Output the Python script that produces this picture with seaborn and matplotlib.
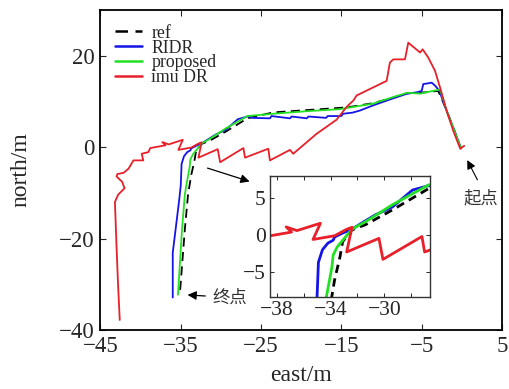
import matplotlib
matplotlib.use("Agg")
import matplotlib.pyplot as plt
import seaborn as sns
import numpy as np
import pandas as pd

# ---------------- data (east / north in metres) ----------------
ref_east = [-0.1, -0.9, -1.9, -2.6, -2.95, -4.5, -6.9, -9.0, -11.1, -14.3, -18.5, -23.5,
            -26.7, -29.4, -31.4, -32.4, -33.1, -33.3, -33.7, -33.9, -34.1, -34.5, -35.1]
ref_north = [-0.3, 3.5, 8.0, 11.0, 12.3, 12.0, 11.75, 10.6, 9.6, 8.7, 8.2, 7.6,
             6.3, 3.4, 1.4, 0.7, -0.9, -3.0, -6.1, -8.3, -10.5, -18.1, -31.8]

prop_east = [-0.1, -0.9, -1.9, -2.7, -3.6, -5.2, -6.8, -9.0, -11.1, -15.2, -19.0, -23.5,
             -26.7, -29.4, -31.4, -32.4, -33.5, -33.8, -33.9, -34.3, -34.5, -34.85, -35.35]
prop_north = [-0.3, 3.5, 8.0, 12.6, 12.3, 11.7, 11.9, 10.7, 9.5, 8.3, 7.9, 7.3,
              6.8, 4.1, 1.8, 0.8, -1.6, -2.7, -4.4, -8.3, -10.5, -18.1, -32.3]

ridr_east = [-0.1, -0.9, -1.9, -2.8, -3.3, -3.75, -4.4, -4.8, -5.0, -5.6, -6.8, -9.0, -11.1,
             -12.7, -13.6, -14.8, -15.0, -16.7, -16.9, -19.1, -19.3, -21.2, -21.4, -23.7,
             -23.9, -26.0, -26.7, -27.9, -29.4, -30.7, -31.7, -32.4, -33.1, -33.7, -33.8,
             -34.2, -34.6, -34.9, -35.0, -35.2, -36.0, -36.0]
ridr_north = [-0.3, 3.5, 8.0, 12.3, 13.4, 14.1, 13.9, 13.8, 12.3, 12.0, 11.7, 10.4, 9.1,
              8.0, 7.55, 7.3, 6.8, 6.8, 6.4, 6.7, 6.3, 6.7, 6.3, 6.8,
              6.3, 6.4, 6.7, 6.1, 3.8, 2.7, 1.6, 0.8, 0.27, -0.27, -0.7,
              -1.1, -2.0, -3.7, -8.3, -11.6, -23.1, -32.9]

imu_east = [0.3, -0.2, -1.07, -1.9, -2.72, -3.34, -4.18, -4.88, -5.2, -6.67, -7.08, -8.54,
            -8.96, -9.36, -11.0, -13.1, -13.5, -14.3, -15.6, -18.1, -21.0, -21.4, -23.9,
            -24.1, -27.0, -27.2, -30.1, -30.4, -32.8, -32.4, -32.8, -33.7, -35.3, -34.75,
            -36.5, -37.3, -36.9, -38.8, -39.05, -39.87, -39.67, -40.9, -41.5, -42.1, -42.9,
            -43.0, -42.3, -42.0, -42.8, -43.2, -43.0, -42.8, -42.6]
imu_north = [0.3, -0.35, 3.6, 8.0, 13.1, 16.7, 19.6, 21.4, 20.7, 22.85, 19.2, 19.2,
             18.5, 14.5, 13.1, 11.3, 10.2, 8.9, 6.0, 2.9, -1.45, -0.6, -2.9,
             -0.35, -2.3, -0.2, -3.3, -0.45, -2.3, 1.05, 0.78, -0.1, -0.6, 1.6,
             0.6, 1.1, 0.4, -0.2, -1.1, -1.45, -2.9, -2.9, -4.7, -5.6, -5.9,
             -6.4, -7.6, -9.0, -10.4, -12.0, -21.8, -30.5, -37.8]

series = [
    ("ref", ref_east, ref_north, "black", "--"),
    ("RIDR", ridr_east, ridr_north, "#1414e6", "-"),
    ("proposed", prop_east, prop_north, "#22e022", "-"),
    ("imu DR", imu_east, imu_north, "#e8202a", "-"),
]

main_xticks = [-45, -35, -25, -15, -5, 5]
main_yticks = [-40, -20, 0, 20]
inset_xticks = [-38, -34, -30]
inset_yticks = [-5, 0, 5]

# ---------------- style ----------------
sns.set_style("ticks")
plt.rcParams["font.family"] = ["Liberation Serif", "DejaVu Serif"]
plt.rcParams["axes.unicode_minus"] = True

fig = plt.figure(figsize=(5.09, 3.89), dpi=100)
ax = fig.add_axes([0.1974, 0.1517, 0.7888, 0.8226])

for name, xe, yn, c, ls in series:
    df = pd.DataFrame({"east": xe, "north": yn})
    sns.lineplot(data=df, x="east", y="north", sort=False, estimator=None,
                 color=c, linestyle=ls, linewidth=1.3, label=name, ax=ax,
                 dashes=False if ls == "-" else True)
ax.lines[0].set_dashes([5, 3])

ax.set_xlim(-45, 5)
ax.set_ylim(-40, 30)
ax.set_xticks(main_xticks)
ax.set_yticks(main_yticks)
ax.tick_params(direction="in", length=4, width=0.8, top=True, right=True,
               labelsize=16.5, pad=4)
for s in ax.spines.values():
    s.set_linewidth(1.3)
    s.set_color("black")
ax.set_xlabel("east/m", fontsize=17, labelpad=6)
ax.set_ylabel("north/m", fontsize=17, labelpad=20)

leg = ax.legend(loc="upper left", bbox_to_anchor=(0.035, 0.954), frameon=False,
                fontsize=12.8, handlelength=1.55, handletextpad=0.52,
                labelspacing=-0.12, borderpad=0, borderaxespad=0)
for h in leg.get_lines():
    h.set_linewidth(1.8)

# annotations
ax.annotate("", xy=(-26.1, -7.7), xytext=(-32.0, -4.4),
            arrowprops=dict(arrowstyle="-|>", color="black", lw=0.9, mutation_scale=13))
ax.annotate("", xy=(0.52, -2.3), xytext=(2.1, -7.7),
            arrowprops=dict(arrowstyle="-|>", color="black", lw=0.8, mutation_scale=13))
ax.text(2.4, -11.3, "起点", fontsize=12.5, color="#333333", ha="center", va="center",
        family=["Noto Sans CJK SC", "DejaVu Sans"])
ax.annotate("", xy=(-34.5, -32.3), xytext=(-31.6, -32.6),
            arrowprops=dict(arrowstyle="-|>", color="black", lw=0.9, mutation_scale=13))
ax.text(-28.9, -32.9, "终点", fontsize=12.5, color="#333333", ha="center", va="center",
        family=["Noto Sans CJK SC", "DejaVu Sans"])

# ---------------- inset ----------------
axin = fig.add_axes([0.5305, 0.2365, 0.3143, 0.311])
for name, xe, yn, c, ls in series:
    df = pd.DataFrame({"east": xe, "north": yn})
    sns.lineplot(data=df, x="east", y="north", sort=False, estimator=None,
                 color=c, linestyle=ls, linewidth=2.0, ax=axin, legend=False,
                 dashes=False if ls == "-" else True)
axin.lines[0].set_dashes([3, 2])
axin.set_xlim(-38.5, -26.6)
axin.set_ylim(-8.4, 8.0)
axin.set_xticks(inset_xticks)
axin.set_yticks(inset_yticks)
axin.set_xticks([-36, -32, -28], minor=True)
axin.tick_params(which="both", direction="in", length=3, width=0.7, top=True, right=True,
                 labelsize=15.5, pad=3)
axin.set_xlabel("")
axin.set_ylabel("")
for s in axin.spines.values():
    s.set_linewidth(1.0)
    s.set_color("#333333")

fig.savefig("out.png", dpi=100)
